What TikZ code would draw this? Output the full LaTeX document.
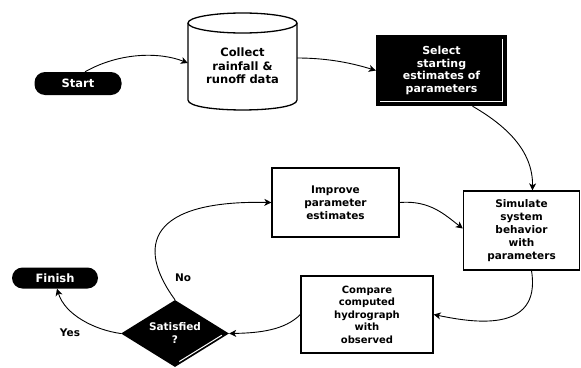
\documentclass[tikz,border=0pt]{standalone}
\usepackage{fontspec}
\setmainfont{DejaVu Sans}
\usetikzlibrary{arrows.meta,shapes.geometric,calc}
\begin{document}
\begin{tikzpicture}[x=1pt,y=-1pt,
  txt/.style={font=\bfseries\fontsize{10.5}{13}\selectfont, align=center},
  bigtxt/.style={font=\bfseries\fontsize{11.5}{13.5}\selectfont, align=center},
  term/.style={bigtxt, rounded corners=10.5pt, fill=black, text=white, inner sep=0pt},
  proc/.style={txt, draw, line width=1.3pt, fill=white, inner sep=0pt},
  dark/.style={txt, fill=black, text=white, inner sep=0pt},
  lbl/.style={txt},
  arr/.style={-{Stealth[length=7pt,width=7pt,inset=2pt]}, line width=0.9pt}]
\useasboundingbox (0,0) rectangle (581,367);

% cylinder drawn directly
\filldraw[fill=white, line width=1.3pt] (188,23) -- (188,100) .. controls (188,113.3) and (297,113.3) .. (297,100) -- (297,23);
\draw[line width=1.3pt, fill=white] (242.5,23) ellipse [x radius=54.5pt, y radius=10pt];

\node[term, minimum width=87pt, minimum height=23pt] (start) at (78,83.5) {Start};
\node[bigtxt, minimum width=109pt, minimum height=97pt] (collect) at (242.5,63) {\\[1pt]Collect\\rainfall \&\\runoff data};
\node[dark, font=\bfseries\fontsize{11}{12.7}\selectfont, minimum width=131pt, minimum height=71pt] (select) at (441.5,70.5) {Select\\starting\\estimates of\\parameters};
\draw[white, line width=1pt] ([xshift=-5pt,yshift=-4pt]select.north east) -- ([xshift=-5pt,yshift=5pt]select.south east) -- ([xshift=4pt,yshift=5pt]select.south west);
\node[proc, minimum width=116pt, minimum height=79pt] (sim) at (521.5,230.5) {Simulate\\system\\behavior\\with\\parameters};
\node[proc, minimum width=127pt, minimum height=69pt] (improve) at (335.5,202.5) {Improve\\parameter\\estimates};
\node[proc, font=\bfseries\fontsize{10}{12.5}\selectfont, minimum width=132pt, minimum height=77pt] (compare) at (367,314.5) {Compare\\computed\\hydrograph\\with\\observed};
\node[dark, diamond, aspect=1.64, minimum width=108pt, minimum height=67pt] (sat) at (175,333.5) {Satisfied\\?};
\draw[white, line width=1pt] ($(sat.south)!0.08!(sat.east)+(0,-3)$) -- ($(sat.south)!0.92!(sat.east)+(-3,-1)$);
\node[term, minimum width=86pt, minimum height=21pt] (finish) at (55,278) {Finish};

\node[lbl] (no) at (183,278) {No};
\node[lbl] (yes) at (70,333) {Yes};

\draw[arr] ([xshift=7pt]start.north) .. controls (120,52) and (160,52) .. (collect.west);
\draw[arr] ([yshift=5pt]collect.east) .. controls (330,58) and (355,64) .. (select.west);
\draw[arr] ([xshift=31pt]select.south) .. controls (505,125) and (533,150) .. ([xshift=11pt]sim.north);
\draw[arr] (improve.east) .. controls (430,200) and (445,215) .. ([yshift=2pt]sim.west);
\draw[arr] ([xshift=10pt]sim.south) .. controls (542,335) and (470,322) .. (compare.east);
\draw[arr] (compare.west) .. controls (285,330) and (260,333) .. (sat.east);
\draw[arr] (sat.north) .. controls (135,245) and (150,200) .. (improve.west);
\draw[arr] (sat.west) .. controls (95,330) and (65,315) .. ([xshift=2pt]finish.south);
\end{tikzpicture}
\end{document}
